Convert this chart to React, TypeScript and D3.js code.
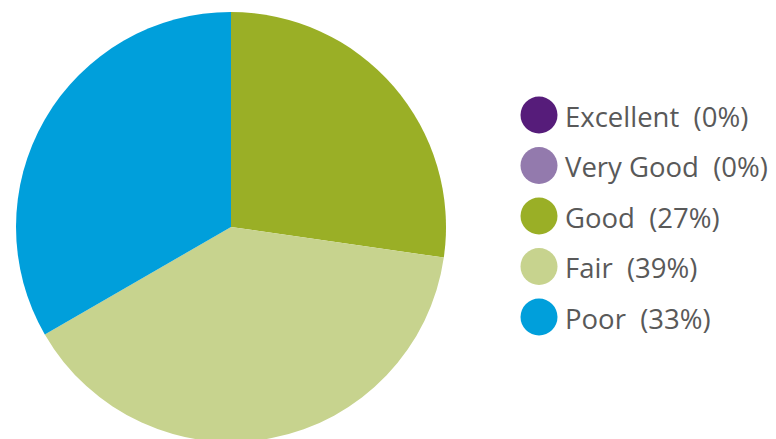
import React from "react";
import * as d3 from "d3";

const categories = ["Excellent", "Very Good", "Good", "Fair", "Poor"];
const values = [0, 0, 27, 39, 33];
const colors = ["#561c7a", "#937aad", "#9aaf26", "#c7d38e", "#009fdb"];

export default function App() {
  const width = 776;
  const height = 439;
  const cx = 231;
  const cy = 227;
  const r = 215;
  const pie = d3.pie<number>().sort(null).value((d) => d)(values);
  const arc = d3.arc<d3.PieArcDatum<number>>().innerRadius(0).outerRadius(r);
  const legendY = d3.scalePoint<string>().domain(categories).range([115, 317]);
  return (
    <svg
      width={width}
      height={height}
      style={{ position: "absolute", left: 0, top: 0, background: "#fff" }}
    >
      <g transform={`translate(${cx},${cy})`}>
        {pie.map((p, i) =>
          p.value > 0 ? <path key={i} d={arc(p) || ""} fill={colors[i]} /> : null
        )}
      </g>
      <g>
        {categories.map((c, i) => (
          <g key={c} transform={`translate(0,${legendY(c)})`}>
            <circle cx={539} cy={0} r={18.5} fill={colors[i]} />
            <text
              x={565}
              y={11.5}
              fontFamily="'Open Sans', sans-serif"
              fontSize={27.5}
              fill="#595959"
              style={{ whiteSpace: "pre" }}
            >
              {`${c}  (${values[i]}%)`}
            </text>
          </g>
        ))}
      </g>
    </svg>
  );
}
